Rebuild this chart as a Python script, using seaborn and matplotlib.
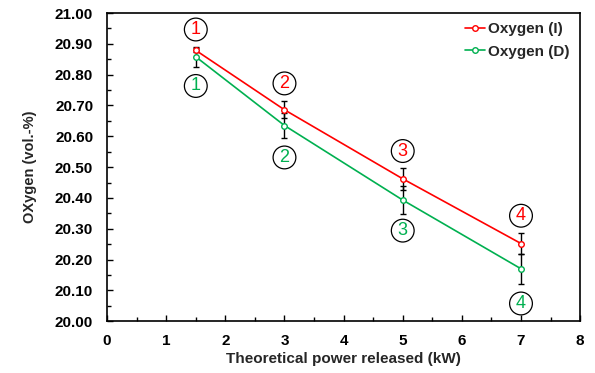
import matplotlib
matplotlib.use("Agg")
import matplotlib.pyplot as plt
from matplotlib.ticker import MultipleLocator, FormatStrFormatter
import seaborn as sns
import pandas as pd

# Measured oxygen concentration vs theoretical power released
power_kw = [1.5, 3.0, 5.0, 7.0]
oxygen_i = [20.879, 20.686, 20.462, 20.252]
oxygen_d = [20.858, 20.635, 20.393, 20.170]
err_i = [0.006, 0.028, 0.035, 0.034]
err_d = [0.033, 0.040, 0.045, 0.049]
point_ids = ["1", "2", "3", "4"]
series_names = ["Oxygen (I)", "Oxygen (D)"]

RED = "#ff0000"
GREEN = "#00b050"

sns.set_theme(style="white")
plt.rcParams["font.family"] = ["Liberation Sans", "DejaVu Sans"]
plt.rcParams["font.weight"] = "bold"

df = pd.DataFrame({
    "power": power_kw * 2,
    "oxygen": oxygen_i + oxygen_d,
    "series": [series_names[0]] * len(power_kw) + [series_names[1]] * len(power_kw),
})

fig = plt.figure(figsize=(5.95, 3.73), dpi=100)
ax = fig.add_axes([0.18, 0.139, 0.795, 0.826])

sns.lineplot(data=df, x="power", y="oxygen", hue="series",
             palette={series_names[0]: RED, series_names[1]: GREEN},
             marker="o", markersize=4, markerfacecolor="white",
             markeredgewidth=1.0, linewidth=1.2, ax=ax, zorder=3,
             legend=True)
for line, col in zip(ax.lines[:2], [RED, GREEN]):
    line.set_markeredgecolor(col)

# Error bars
ax.errorbar(power_kw, oxygen_i, yerr=err_i, fmt="none", ecolor="black",
            elinewidth=1.0, capsize=2.2, capthick=1.0, zorder=2)
ax.errorbar(power_kw, oxygen_d, yerr=err_d, fmt="none", ecolor="black",
            elinewidth=1.0, capsize=2.2, capthick=1.0, zorder=2)

# Circled point numbers
above = [15, 19, 20, 20]
below = [-21, -23, -22, -25]
for x, yi, yd, pid, ua, db in zip(power_kw, oxygen_i, oxygen_d, point_ids, above, below):
    for y, col, off in [(yi, RED, ua), (yd, GREEN, db)]:
        ax.annotate(pid, xy=(x, y), xytext=(0, off), textcoords="offset points",
                    ha="center", va="center", color=col, fontsize=13,
                    fontweight="normal",
                    bbox=dict(boxstyle="circle,pad=0.16", fc="white",
                              ec="black", lw=0.9))

ax.set_xlim(0, 8)
ax.set_ylim(20.0, 21.0)
ax.xaxis.set_major_locator(MultipleLocator(1))
ax.xaxis.set_minor_locator(MultipleLocator(0.5))
ax.yaxis.set_major_locator(MultipleLocator(0.1))
ax.yaxis.set_minor_locator(MultipleLocator(0.05))
ax.yaxis.set_major_formatter(FormatStrFormatter("%.2f"))
ax.tick_params(which="both", direction="in", labelsize=11, width=1.0,
               colors="black")
ax.tick_params(axis="y", pad=10)
ax.tick_params(axis="x", pad=9)
ax.tick_params(which="major", length=4)
ax.tick_params(which="minor", length=3)
ax.tick_params(axis="y", which="both", left=True, right=False)
ax.tick_params(axis="x", which="both", bottom=True, top=False)
for lbl in ax.get_xticklabels() + ax.get_yticklabels():
    lbl.set_fontweight("bold")

for sp in ax.spines.values():
    sp.set_color("black")
    sp.set_linewidth(1.2)

ax.set_xlabel("Theoretical power released (kW)", fontsize=11,
              fontweight="bold", labelpad=3)
ax.set_ylabel("OXygen (vol.-%)", fontsize=10.5, fontweight="bold", labelpad=13)

handles, labels = ax.get_legend_handles_labels()
for h, col in zip(handles, [RED, GREEN]):
    h.set_markerfacecolor("white")
    h.set_markeredgecolor(col)
ax.legend(handles, labels, loc="upper right", bbox_to_anchor=(1.0, 1.005),
          frameon=False, handlelength=1.3, handletextpad=0.2,
          labelspacing=0.55, borderaxespad=0.3,
          prop={"weight": "bold", "size": 11})

fig.savefig("out.png", dpi=100, facecolor="white")
